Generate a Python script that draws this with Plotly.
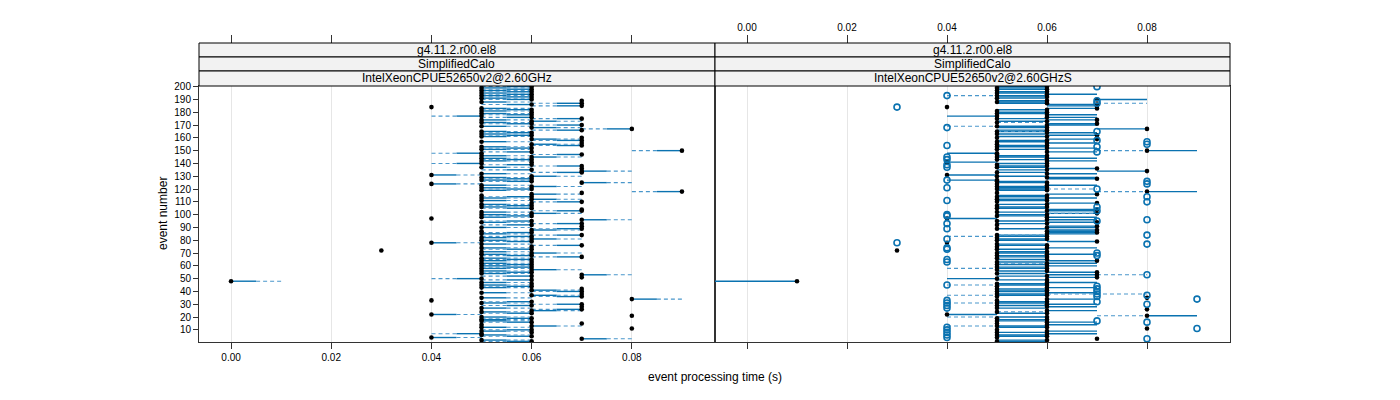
import plotly.graph_objects as go

# ---------------- data (seconds) ----------------
events = list(range(1, 201))

# left panel: IntelXeonCPUE52650v2@2.60GHz
left_time = [
    0.06, 0.05, 0.07, 0.04, 0.06, 0.05, 0.05, 0.06, 0.05, 0.06,
    0.08, 0.05, 0.06, 0.05, 0.07, 0.06, 0.05, 0.05, 0.06, 0.05,
    0.08, 0.04, 0.06, 0.05, 0.06, 0.07, 0.05, 0.07, 0.06, 0.07,
    0.05, 0.06, 0.04, 0.08, 0.05, 0.07, 0.06, 0.07, 0.05, 0.07,
    0.06, 0.07, 0.05, 0.06, 0.05, 0.06, 0.05, 0.00, 0.06, 0.05,
    0.07, 0.06, 0.07, 0.05, 0.06, 0.05, 0.06, 0.05, 0.06, 0.05,
    0.06, 0.05, 0.06, 0.05, 0.06, 0.05, 0.07, 0.06, 0.05, 0.06,
    0.05, 0.03, 0.06, 0.05, 0.06, 0.07, 0.05, 0.04, 0.06, 0.05,
    0.06, 0.05, 0.06, 0.07, 0.05, 0.06, 0.05, 0.06, 0.07, 0.05,
    0.07, 0.06, 0.07, 0.05, 0.06, 0.07, 0.04, 0.05, 0.06, 0.05,
    0.06, 0.05, 0.07, 0.07, 0.06, 0.05, 0.06, 0.05, 0.06, 0.07,
    0.05, 0.06, 0.05, 0.06, 0.05, 0.06, 0.07, 0.09, 0.05, 0.06,
    0.05, 0.06, 0.05, 0.04, 0.07, 0.06, 0.05, 0.06, 0.05, 0.06,
    0.04, 0.05, 0.07, 0.07, 0.06, 0.07, 0.05, 0.07, 0.06, 0.05,
    0.06, 0.05, 0.06, 0.05, 0.06, 0.05, 0.07, 0.05, 0.06, 0.09,
    0.05, 0.06, 0.05, 0.07, 0.06, 0.07, 0.05, 0.07, 0.06, 0.07,
    0.05, 0.06, 0.05, 0.06, 0.05, 0.07, 0.08, 0.06, 0.05, 0.07,
    0.06, 0.05, 0.06, 0.05, 0.07, 0.06, 0.05, 0.06, 0.05, 0.06,
    0.05, 0.06, 0.05, 0.04, 0.07, 0.06, 0.07, 0.05, 0.07, 0.06,
    0.05, 0.06, 0.05, 0.06, 0.05, 0.06, 0.05, 0.06, 0.05, 0.06,
]
left_ref = [
    0.05, 0.06, 0.08, 0.05, 0.05, 0.06, 0.04, 0.06, 0.06, 0.05,
    0.08, 0.06, 0.07, 0.05, 0.07, 0.05, 0.06, 0.06, 0.05, 0.06,
    0.08, 0.05, 0.05, 0.06, 0.07, 0.06, 0.06, 0.07, 0.05, 0.06,
    0.06, 0.05, 0.04, 0.09, 0.06, 0.06, 0.07, 0.07, 0.06, 0.06,
    0.07, 0.07, 0.06, 0.05, 0.06, 0.06, 0.06, 0.01, 0.05, 0.04,
    0.07, 0.05, 0.08, 0.06, 0.05, 0.06, 0.07, 0.06, 0.05, 0.06,
    0.05, 0.06, 0.06, 0.06, 0.05, 0.06, 0.06, 0.05, 0.06, 0.07,
    0.06, 0.03, 0.05, 0.06, 0.06, 0.06, 0.06, 0.05, 0.05, 0.06,
    0.07, 0.06, 0.05, 0.06, 0.06, 0.05, 0.05, 0.07, 0.06, 0.06,
    0.07, 0.05, 0.06, 0.06, 0.05, 0.08, 0.04, 0.06, 0.05, 0.06,
    0.07, 0.06, 0.06, 0.07, 0.05, 0.06, 0.05, 0.06, 0.06, 0.06,
    0.06, 0.07, 0.06, 0.05, 0.05, 0.07, 0.07, 0.08, 0.06, 0.05,
    0.06, 0.07, 0.06, 0.05, 0.08, 0.05, 0.06, 0.05, 0.06, 0.07,
    0.05, 0.06, 0.06, 0.08, 0.05, 0.07, 0.06, 0.06, 0.05, 0.04,
    0.06, 0.06, 0.05, 0.06, 0.07, 0.06, 0.06, 0.04, 0.05, 0.08,
    0.06, 0.05, 0.06, 0.06, 0.07, 0.07, 0.06, 0.06, 0.07, 0.07,
    0.06, 0.05, 0.06, 0.05, 0.06, 0.06, 0.07, 0.07, 0.06, 0.06,
    0.05, 0.06, 0.07, 0.06, 0.06, 0.05, 0.04, 0.05, 0.06, 0.06,
    0.06, 0.05, 0.06, 0.04, 0.06, 0.05, 0.06, 0.06, 0.07, 0.05,
    0.06, 0.05, 0.06, 0.05, 0.06, 0.05, 0.06, 0.05, 0.06, 0.05,
]

# right panel: IntelXeonCPUE52650v2@2.60GHzS
right_time = [
    0.05, 0.06, 0.07, 0.05, 0.06, 0.05, 0.06, 0.05, 0.06, 0.05,
    0.08, 0.06, 0.05, 0.06, 0.05, 0.06, 0.05, 0.06, 0.05, 0.06,
    0.08, 0.04, 0.06, 0.05, 0.06, 0.08, 0.05, 0.06, 0.05, 0.06,
    0.05, 0.06, 0.05, 0.06, 0.08, 0.05, 0.06, 0.05, 0.06, 0.05,
    0.06, 0.05, 0.06, 0.05, 0.06, 0.05, 0.06, 0.01, 0.06, 0.05,
    0.07, 0.06, 0.07, 0.05, 0.07, 0.06, 0.05, 0.06, 0.05, 0.06,
    0.05, 0.06, 0.05, 0.07, 0.06, 0.05, 0.06, 0.05, 0.06, 0.05,
    0.06, 0.03, 0.05, 0.06, 0.05, 0.06, 0.05, 0.04, 0.07, 0.05,
    0.06, 0.05, 0.06, 0.05, 0.06, 0.07, 0.06, 0.07, 0.05, 0.06,
    0.07, 0.05, 0.06, 0.07, 0.05, 0.06, 0.04, 0.06, 0.05, 0.06,
    0.07, 0.05, 0.06, 0.07, 0.05, 0.06, 0.05, 0.06, 0.07, 0.05,
    0.06, 0.05, 0.06, 0.05, 0.06, 0.07, 0.05, 0.08, 0.06, 0.05,
    0.06, 0.05, 0.06, 0.05, 0.06, 0.05, 0.05, 0.07, 0.06, 0.05,
    0.04, 0.06, 0.05, 0.08, 0.06, 0.07, 0.05, 0.06, 0.05, 0.06,
    0.04, 0.06, 0.05, 0.06, 0.05, 0.06, 0.05, 0.05, 0.06, 0.08,
    0.05, 0.06, 0.05, 0.06, 0.05, 0.06, 0.05, 0.06, 0.07, 0.05,
    0.06, 0.07, 0.05, 0.06, 0.05, 0.06, 0.08, 0.06, 0.05, 0.06,
    0.07, 0.05, 0.06, 0.07, 0.05, 0.06, 0.05, 0.06, 0.05, 0.06,
    0.05, 0.06, 0.07, 0.04, 0.07, 0.07, 0.06, 0.05, 0.06, 0.07,
    0.05, 0.06, 0.05, 0.06, 0.05, 0.06, 0.05, 0.06, 0.05, 0.06,
]
right_ref = [
    0.06, 0.05, 0.07, 0.05, 0.05, 0.06, 0.07, 0.06, 0.07, 0.05,
    0.08, 0.05, 0.06, 0.07, 0.05, 0.07, 0.06, 0.05, 0.05, 0.05,
    0.09, 0.05, 0.05, 0.05, 0.07, 0.08, 0.06, 0.07, 0.06, 0.07,
    0.06, 0.05, 0.05, 0.07, 0.08, 0.05, 0.05, 0.06, 0.07, 0.06,
    0.05, 0.06, 0.07, 0.05, 0.05, 0.06, 0.07, -0.01, 0.05, 0.04,
    0.06, 0.05, 0.06, 0.06, 0.06, 0.05, 0.05, 0.05, 0.06, 0.07,
    0.06, 0.07, 0.06, 0.06, 0.05, 0.05, 0.05, 0.06, 0.07, 0.06,
    0.05, 0.03, 0.06, 0.07, 0.05, 0.05, 0.06, 0.04, 0.06, 0.06,
    0.05, 0.05, 0.05, 0.06, 0.07, 0.06, 0.07, 0.06, 0.06, 0.07,
    0.06, 0.05, 0.05, 0.06, 0.06, 0.07, 0.05, 0.07, 0.06, 0.05,
    0.06, 0.06, 0.07, 0.06, 0.06, 0.05, 0.05, 0.05, 0.06, 0.05,
    0.05, 0.06, 0.07, 0.06, 0.05, 0.06, 0.05, 0.09, 0.05, 0.06,
    0.05, 0.06, 0.07, 0.05, 0.05, 0.06, 0.04, 0.06, 0.07, 0.06,
    0.05, 0.07, 0.06, 0.07, 0.05, 0.06, 0.06, 0.05, 0.05, 0.05,
    0.05, 0.07, 0.06, 0.07, 0.06, 0.05, 0.05, 0.04, 0.07, 0.09,
    0.06, 0.07, 0.06, 0.05, 0.05, 0.07, 0.06, 0.05, 0.06, 0.05,
    0.05, 0.06, 0.06, 0.07, 0.06, 0.05, 0.07, 0.05, 0.06, 0.07,
    0.06, 0.05, 0.05, 0.06, 0.06, 0.07, 0.04, 0.07, 0.06, 0.05,
    0.05, 0.05, 0.06, 0.04, 0.06, 0.06, 0.05, 0.06, 0.05, 0.08,
    0.06, 0.05, 0.06, 0.07, 0.06, 0.05, 0.05, 0.05, 0.06, 0.05,
]
# open (blue) circles in the right panel
right_open_event = [3, 4, 6, 8, 10, 11, 12, 16, 17, 27, 29, 30, 31, 32, 33, 34, 36, 37,
                    38, 40, 42, 44, 45, 53, 63, 65, 68, 70, 73, 74, 77, 78, 81, 84, 89,
                    93, 95, 96, 99, 100, 103, 106, 110, 111, 114, 120, 121, 124, 126, 127,
                    137, 139, 143, 145, 149, 153, 154, 155, 157, 158, 165, 168, 184, 187,
                    189, 193, 200]
right_open_time = [0.08, 0.04, 0.04, 0.04, 0.04, 0.09, 0.04, 0.08, 0.07, 0.04, 0.04, 0.08,
                   0.04, 0.07, 0.04, 0.09, 0.07, 0.08, 0.07, 0.07, 0.07, 0.07, 0.04, 0.08,
                   0.04, 0.04, 0.07, 0.07, 0.04, 0.04, 0.08, 0.03, 0.04, 0.08, 0.04, 0.04,
                   0.07, 0.08, 0.04, 0.04, 0.07, 0.07, 0.08, 0.04, 0.08, 0.07, 0.04, 0.08,
                   0.08, 0.04, 0.04, 0.04, 0.04, 0.04, 0.07, 0.07, 0.04, 0.08, 0.08, 0.07,
                   0.07, 0.04, 0.03, 0.07, 0.07, 0.04, 0.07]
# dashed segments in the right panel
right_dash_event = [13, 20, 21, 24, 31, 37, 38, 45, 53, 58, 62, 83, 84, 101, 118, 120,
                    150, 165, 169, 172, 187, 193]
right_dash_from = [0.04, 0.04, 0.07, 0.05, 0.04, 0.04, 0.06, 0.04, 0.07, 0.04, 0.05, 0.04,
                   0.05, 0.06, 0.07, 0.06, 0.07, 0.05, 0.04, 0.05, 0.07, 0.04]
right_dash_to = [0.05, 0.05, 0.08, 0.06, 0.05, 0.05, 0.08, 0.05, 0.08, 0.05, 0.06, 0.05,
                 0.06, 0.07, 0.08, 0.07, 0.08, 0.06, 0.05, 0.06, 0.08, 0.05]

strip_labels_left = ["g4.11.2.r00.el8", "SimplifiedCalo", "IntelXeonCPUE52650v2@2.60GHz"]
strip_labels_right = ["g4.11.2.r00.el8", "SimplifiedCalo", "IntelXeonCPUE52650v2@2.60GHzS"]
x_ticks = [0.00, 0.02, 0.04, 0.06, 0.08]
y_ticks = list(range(10, 201, 10))

# ---------------- layout constants ----------------
OFF = 8                      # default page-body margin of the html page
W, H = 1400 - OFF, 400 - OFF
BLUE = "#0a72b0"
DASHBLUE = "#4a97cb"
FONT = "Liberation Sans"
px = lambda v: (v - OFF) / W
py = lambda v: 1 - (v - OFF) / H
L0, MID, R0 = 199, 715, 1230
TOP, BOT = 86, 342
XR = [-0.0064, 0.0966]
YR = [0.5, 200.5]


def segs(x0s, x1s, ys):
    xs, yy = [], []
    for a, b, y in zip(x0s, x1s, ys):
        if a == b:
            continue
        xs += [a, b, None]
        yy += [y, y, None]
    return xs, yy


fig = go.Figure()

# ---- left panel lines: solid half next to the point, dashed half toward ref
mids_l = [(t + r) / 2 for t, r in zip(left_time, left_ref)]
xs, ys = segs(left_time, mids_l, events)
fig.add_trace(go.Scatter(x=xs, y=ys, mode="lines", xaxis="x", yaxis="y",
                         line=dict(color=BLUE, width=1.4), hoverinfo="skip"))
xs, ys = segs(mids_l, left_ref, events)
fig.add_trace(go.Scatter(x=xs, y=ys, mode="lines", xaxis="x", yaxis="y",
                         line=dict(color=DASHBLUE, width=1.1, dash="4px,3px"),
                         hoverinfo="skip"))
fig.add_trace(go.Scatter(x=left_time, y=events, mode="markers", xaxis="x", yaxis="y",
                         marker=dict(color="black", size=4.6), hoverinfo="skip"))

# ---- right panel
xs, ys = segs(right_time, right_ref, events)
fig.add_trace(go.Scatter(x=xs, y=ys, mode="lines", xaxis="x2", yaxis="y2",
                         line=dict(color=BLUE, width=1.4), hoverinfo="skip"))
xs, ys = segs(right_dash_from, right_dash_to, right_dash_event)
fig.add_trace(go.Scatter(x=xs, y=ys, mode="lines", xaxis="x2", yaxis="y2",
                         line=dict(color=DASHBLUE, width=1.1, dash="4px,3px"),
                         hoverinfo="skip"))
fig.add_trace(go.Scatter(x=right_time, y=events, mode="markers", xaxis="x2", yaxis="y2",
                         marker=dict(color="black", size=4.6), hoverinfo="skip"))
fig.add_trace(go.Scatter(x=right_open_time, y=right_open_event, mode="markers",
                         xaxis="x2", yaxis="y2",
                         marker=dict(symbol="circle-open", color=BLUE, size=6,
                                     line=dict(width=1.6, color=BLUE)),
                         hoverinfo="skip"))

# dummy traces to make the top axes render
fig.add_trace(go.Scatter(x=[0.0], y=[-100], xaxis="x3", yaxis="y",
                         mode="markers", marker=dict(opacity=0), hoverinfo="skip"))
fig.add_trace(go.Scatter(x=[0.0], y=[-100], xaxis="x4", yaxis="y2",
                         mode="markers", marker=dict(opacity=0), hoverinfo="skip"))

tick_text = ["%.2f" % v for v in x_ticks]
axcol = "#333333"
common_x = dict(range=XR, tickvals=x_ticks, ticktext=tick_text, ticks="outside",
                ticklen=6, tickcolor=axcol, showgrid=True, gridcolor="#e6e6e6",
                gridwidth=1, zeroline=False, showline=True, linecolor=axcol,
                linewidth=1, mirror=True, tickfont=dict(size=10, family=FONT, color="black"))
common_y = dict(range=YR, autorange=False, zeroline=False, showgrid=False, showline=True,
                linecolor=axcol, linewidth=1, mirror=True)

fig.update_layout(
    width=W, height=H, margin=dict(l=0, r=0, t=0, b=0, autoexpand=False),
    paper_bgcolor="white", plot_bgcolor="white", showlegend=False,
    font=dict(family=FONT, size=10, color="black"),
    xaxis=dict(domain=[px(L0), px(MID)], anchor="y", **common_x),
    xaxis2=dict(domain=[px(MID), px(R0)], anchor="y2", showticklabels=False, **common_x),
    xaxis3=dict(overlaying="x", anchor="free", position=py(43), side="top",
                range=XR, tickvals=x_ticks, ticks="outside", ticklen=8, tickcolor=axcol,
                showticklabels=False, showgrid=False, zeroline=False, showline=False),
    xaxis4=dict(overlaying="x2", anchor="free", position=py(43), side="top",
                range=XR, tickvals=x_ticks, ticktext=tick_text, ticks="outside",
                ticklen=8, tickcolor=axcol, showticklabels=True, showgrid=False,
                zeroline=False, showline=False,
                tickfont=dict(size=10, family=FONT, color="black")),
    yaxis=dict(domain=[py(BOT), py(TOP)], anchor="x", tickvals=y_ticks, ticks="outside",
               ticklen=5, tickcolor=axcol, tickfont=dict(size=10, family=FONT, color="black"),
               **common_y),
    yaxis2=dict(domain=[py(BOT), py(TOP)], anchor="x2", showticklabels=False, ticks="",
                **common_y),
)

# ---- strips
shapes, annotations = [], []
rows = [(43, 57), (57, 71), (71, 86)]
for (x0, x1), labels in (((L0, MID), strip_labels_left), ((MID, R0), strip_labels_right)):
    for (y0, y1), lab in zip(rows, labels):
        shapes.append(dict(type="rect", xref="paper", yref="paper",
                           x0=px(x0), x1=px(x1), y0=py(y1), y1=py(y0),
                           fillcolor="#f2f2f2", line=dict(color="black", width=1), layer="above"))
        annotations.append(dict(text=lab, xref="paper", yref="paper",
                                x=px((x0 + x1) / 2), y=py((y0 + y1) / 2),
                                showarrow=False, xanchor="center", yanchor="middle",
                                font=dict(size=12, family=FONT, color="black")))

annotations.append(dict(text="event processing time (s)", xref="paper", yref="paper",
                        x=px((L0 + R0) / 2), y=py(377), showarrow=False,
                        xanchor="center", yanchor="middle",
                        font=dict(size=12, family=FONT, color="black")))
annotations.append(dict(text="event number", xref="paper", yref="paper",
                        x=px(163), y=py((TOP + BOT) / 2), textangle=-90, showarrow=False,
                        xanchor="center", yanchor="middle",
                        font=dict(size=12, family=FONT, color="black")))
fig.update_layout(shapes=shapes, annotations=annotations)

fig.write_html("out.html")
